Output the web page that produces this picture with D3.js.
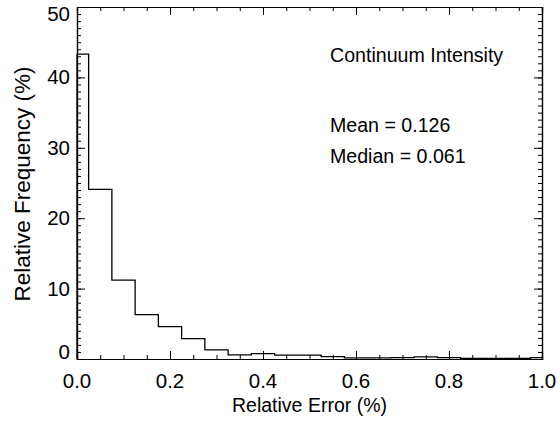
<!DOCTYPE html>
<html>
<head>
<meta charset="utf-8">
<script src="https://cdn.jsdelivr.net/npm/d3@7"></script>
<style>
  html, body { margin: 0; padding: 0; background: #fff; }
  svg { display: block; }
  text { font-family: "Liberation Sans", Arial, Helvetica, sans-serif; fill: #000; }
</style>
</head>
<body>
<div id="chart"></div>
<script>
// histogram bins (centre of bin, %)
const binCenters = [0, 0.05, 0.1, 0.15, 0.2, 0.25, 0.3, 0.35, 0.4, 0.45, 0.5,
                    0.55, 0.6, 0.65, 0.7, 0.75, 0.8, 0.85, 0.9, 0.95, 1.0];
const frequency = [43.3, 24.1, 11.2, 6.3, 4.6, 2.9, 1.3, 0.6, 0.75, 0.55, 0.55,
                   0.35, 0.15, 0.15, 0.2, 0.3, 0.2, 0.1, 0.1, 0.1, 0.2];
const xMajorTicks = [0, 0.2, 0.4, 0.6, 0.8, 1.0];
const yMajorTicks = [0, 10, 20, 30, 40, 50];
const notes = ['Continuum Intensity', 'Mean = 0.126', 'Median = 0.061'];

const W = 560, H = 421;
const margin = { left: 77, right: 18, top: 7, bottom: 62 };
const plotW = W - margin.left - margin.right;
const plotH = H - margin.top - margin.bottom;

const x = d3.scaleLinear().domain([0, 1]).range([0, plotW]);
const y = d3.scaleLinear().domain([0, 50]).range([plotH, 0]);

const svg = d3.select('#chart').append('svg')
    .attr('width', W).attr('height', H);

const g = svg.append('g')
    .attr('transform', `translate(${margin.left},${margin.top})`);

// ---------- axes (IDL style: ticks on all four sides) ----------
const xMinor = d3.range(0, 1.0001, 0.05);
const yMinor = d3.range(0, 50.0001, 1);

function styleAxis(sel) {
    sel.select('.domain').attr('stroke', '#000').attr('stroke-width', 1.2);
    sel.selectAll('.tick line').attr('stroke', '#000').attr('stroke-width', 1);
}

// minor ticks first
g.append('g').attr('transform', `translate(0,${plotH})`)
    .call(d3.axisTop(x).tickValues(xMinor).tickSize(4).tickFormat(''))
    .call(styleAxis);
g.append('g')
    .call(d3.axisBottom(x).tickValues(xMinor).tickSize(4).tickFormat(''))
    .call(styleAxis);
g.append('g')
    .call(d3.axisRight(y).tickValues(yMinor).tickSize(4).tickFormat(''))
    .call(styleAxis);
g.append('g').attr('transform', `translate(${plotW},0)`)
    .call(d3.axisLeft(y).tickValues(yMinor).tickSize(4).tickFormat(''))
    .call(styleAxis);

// major ticks
g.append('g').attr('transform', `translate(0,${plotH})`)
    .call(d3.axisTop(x).tickValues(xMajorTicks).tickSize(8).tickFormat(''))
    .call(styleAxis);
g.append('g')
    .call(d3.axisBottom(x).tickValues(xMajorTicks).tickSize(8).tickFormat(''))
    .call(styleAxis);
g.append('g')
    .call(d3.axisRight(y).tickValues(yMajorTicks).tickSize(8).tickFormat(''))
    .call(styleAxis);
g.append('g').attr('transform', `translate(${plotW},0)`)
    .call(d3.axisLeft(y).tickValues(yMajorTicks).tickSize(8).tickFormat(''))
    .call(styleAxis);

// tick labels
g.append('g').selectAll('text')
    .data(xMajorTicks).join('text')
    .attr('x', d => x(d))
    .attr('y', plotH + 29)
    .attr('text-anchor', 'middle')
    .style('font-size', '20.5px')
    .text(d3.format('.1f'));

// IDL keeps the end labels inside the axis range
g.append('g').selectAll('text')
    .data(yMajorTicks).join('text')
    .attr('x', -7)
    .attr('y', d => Math.min(plotH, Math.max(14, y(d) + 7)))
    .attr('text-anchor', 'end')
    .style('font-size', '20.5px')
    .text(d => d);

// axis titles
svg.append('text')
    .attr('x', margin.left + plotW / 2)
    .attr('y', 412)
    .attr('text-anchor', 'middle')
    .style('font-size', '19.5px')
    .text('Relative Error (%)');

svg.append('text')
    .attr('transform', 'translate(30,184) rotate(-90)')
    .attr('text-anchor', 'middle')
    .style('font-size', '22.5px')
    .text('Relative Frequency (%)');

// ---------- histogram (psym=10 style steps) ----------
const half = 0.025;
const pts = [];
binCenters.forEach((c, i) => {
    const x0 = Math.max(0, c - half), x1 = Math.min(1, c + half);
    pts.push([x0, frequency[i]], [x1, frequency[i]]);
});

const line = d3.line().x(d => x(d[0])).y(d => y(d[1]));
g.append('path')
    .datum(pts)
    .attr('d', line)
    .attr('fill', 'none')
    .attr('stroke', '#000')
    .attr('stroke-width', 1.3);

// vertical edge of the first bin down to the axis
g.append('line')
    .attr('x1', x(0)).attr('x2', x(0))
    .attr('y1', y(0)).attr('y2', y(frequency[0]))
    .attr('stroke', '#000').attr('stroke-width', 1.3);

// ---------- annotations ----------
const noteY = [62, 132, 163];
svg.append('g').selectAll('text')
    .data(notes).join('text')
    .attr('x', 330)
    .attr('y', (d, i) => noteY[i])
    .style('font-size', '19.6px')
    .text(d => d);
</script>
</body>
</html>
